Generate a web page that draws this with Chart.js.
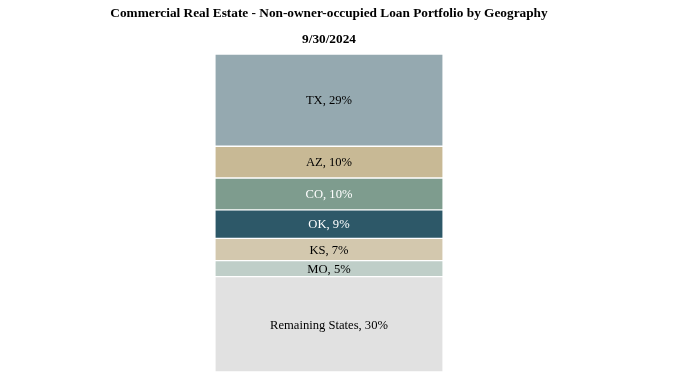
<!DOCTYPE html>
<html><head><meta charset="utf-8">
<script src="https://cdn.jsdelivr.net/npm/chart.js@4/dist/chart.umd.min.js"></script>
<style>html,body{margin:0;padding:0;background:#fff;}#wrap{width:678px;height:382px;position:relative;}</style>
</head><body><div id="wrap"><canvas id="c" width="678" height="382"></canvas></div>
<script>
const titleText = "Commercial Real Estate - Non-owner-occupied Loan Portfolio by Geography";
const subtitleText = "9/30/2024";
const categories = ["9/30/2024"];
const segmentNames = ["TX", "AZ", "CO", "OK", "KS", "MO", "Remaining States"];
const segmentValues = [29, 10, 10, 9, 7, 5, 30];
const segmentColors = ["#95A9B0", "#C8B995", "#7E9C8E", "#2D5868", "#D3C8AE", "#BFCEC8", "#E1E1E1"];
const labelColors = ["#000", "#000", "#fff", "#fff", "#000", "#000", "#000"];

const datasets = segmentNames.map((n, i) => ({
  label: n,
  data: [segmentValues[i]],
  backgroundColor: segmentColors[i],
  borderColor: "#ffffff",
  borderWidth: {top: 1, bottom: 1, left: 0, right: 0},
  borderSkipped: false,
  barThickness: 227
}));

const labelPlugin = {
  id: "labels",
  afterDatasetsDraw(chart) {
    const ctx = chart.ctx;
    ctx.save();
    ctx.font = "12.6px 'Liberation Serif', 'Times New Roman', serif";
    ctx.textAlign = "center";
    ctx.textBaseline = "middle";
    chart.data.datasets.forEach((ds, i) => {
      const el = chart.getDatasetMeta(i).data[0];
      const p = el.getCenterPoint();
      ctx.fillStyle = labelColors[i];
      ctx.fillText(ds.label + ", " + ds.data[0] + "%", p.x, p.y + 1);
    });
    ctx.restore();
  },
  afterDraw(chart) {
    const ctx = chart.ctx;
    ctx.save();
    ctx.fillStyle = "#000";
    ctx.font = "bold 13.3px 'Liberation Serif', 'Times New Roman', serif";
    ctx.textAlign = "center";
    ctx.textBaseline = "middle";
    const cx = (chart.chartArea.left + chart.chartArea.right) / 2;
    ctx.fillText(titleText, cx, 13.5);
    ctx.fillText(subtitleText, cx, 39.5);
    ctx.restore();
  }
};

new Chart(document.getElementById("c"), {
  type: "bar",
  data: { labels: categories, datasets },
  options: {
    responsive: false,
    animation: false,
    events: [],
    layout: { padding: { top: 54, bottom: 10, left: 0, right: 20 } },
    plugins: { legend: { display: false }, tooltip: { enabled: false }, title: { display: false } },
    scales: {
      x: { stacked: true, display: false },
      y: { stacked: true, display: false, min: 0, max: 100, reverse: true }
    }
  },
  plugins: [labelPlugin]
});
</script></body></html>
